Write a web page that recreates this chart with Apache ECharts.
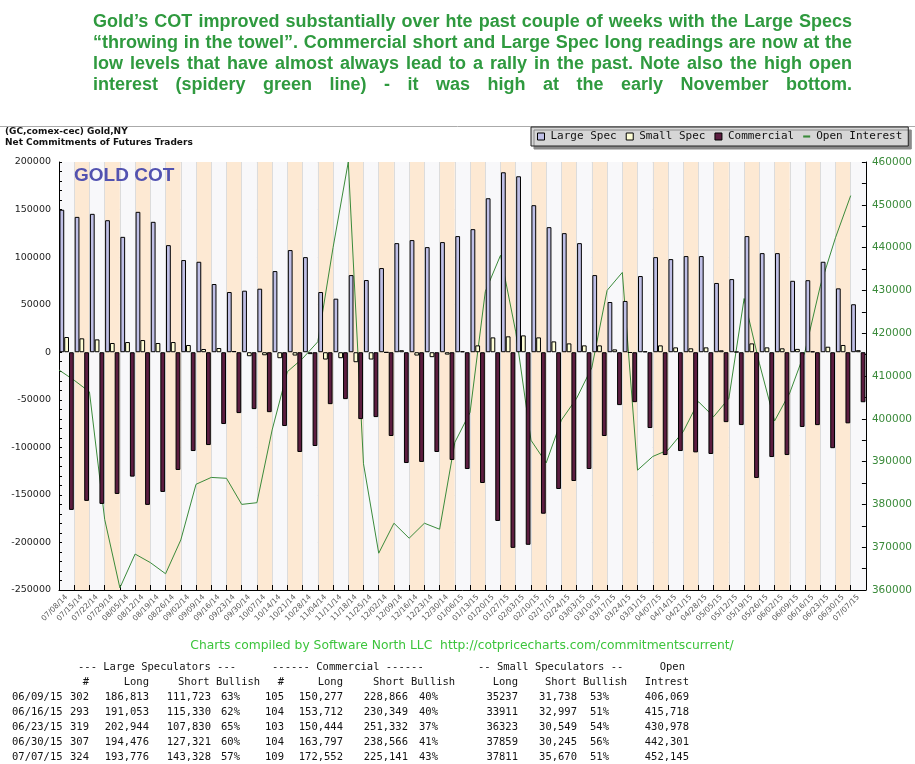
<!DOCTYPE html>
<html>
<head>
<meta charset="utf-8">
<script src="https://cdn.jsdelivr.net/npm/echarts@6/dist/echarts.min.js"></script>
<style>
html,body{margin:0;padding:0;background:#fff;}
#chart{width:915px;height:764px;}
</style>
</head>
<body>
<div id="chart"></div>
<script>
// ---------------- DATA ----------------
const dates = ['07/08/14','07/15/14','07/22/14','07/29/14','08/05/14','08/12/14','08/19/14','08/26/14','09/02/14','09/09/14','09/16/14','09/23/14','09/30/14','10/07/14','10/14/14','10/21/14','10/28/14','11/04/14','11/11/14','11/18/14','11/25/14','12/02/14','12/09/14','12/16/14','12/23/14','12/30/14','01/06/15','01/13/15','01/20/15','01/27/15','02/03/15','02/10/15','02/17/15','02/24/15','03/03/15','03/10/15','03/17/15','03/24/15','03/31/15','04/07/15','04/14/15','04/21/15','04/28/15','05/05/15','05/12/15','05/19/15','05/26/15','06/02/15','06/09/15','06/16/15','06/23/15','06/30/15','07/07/15'];

const largeSpec = [149800,142300,145500,138800,121300,147600,137100,112600,96900,95100,71700,63300,64700,66800,85300,107400,100000,63300,56300,81100,75900,88500,114700,117900,110500,115800,122100,129400,161900,189200,185000,154600,131500,125200,114700,81100,52800,53900,80100,100000,97900,101100,101100,72800,76900,122100,104200,104200,75090,75723,95114,67155,50448];

const smallSpec = [16000,14600,13500,9700,10700,12800,9700,10700,7600,3400,4400,1300,-4200,-3200,-6300,-3500,-2000,-7700,-6300,-10500,-7700,-300,2100,-3500,-5200,-2500,1000,7200,15600,16700,17700,15600,11400,9300,7200,7200,3000,-600,900,7200,5100,4100,5100,2000,500,9300,5100,4100,3499,914,5774,7614,2141];

const commercial = [-165800,-156300,-159500,-149000,-130800,-160500,-146900,-123800,-103900,-97600,-75500,-64000,-59800,-63000,-77600,-104900,-98600,-54600,-49300,-70300,-68200,-88100,-116500,-115400,-104900,-113300,-122800,-137500,-177400,-205700,-202500,-169800,-143800,-135400,-122800,-88100,-55600,-52500,-79700,-108100,-103900,-105300,-107000,-73500,-76600,-132200,-110200,-108100,-78589,-76637,-100888,-74769,-52589];

const openInterest = [411400,409000,406300,376500,360500,368400,366400,363800,371700,384700,386300,386100,380000,380400,397400,411000,414100,418000,440000,460000,389500,368600,375600,372100,375600,374200,394500,401500,429700,438200,420300,395000,389700,399700,404800,412000,430000,434200,388000,391200,392700,397000,404000,400500,404800,428100,413000,399500,406069,415718,430978,442301,452145];

const leftTicks = {min:-250000, max:200000, interval:50000};
const rightTicks = {min:360000, max:460000, interval:10000};

const titleLines = [
  "Gold\u2019s COT improved substantially over hte past couple of weeks with the Large Specs",
  "\u201Cthrowing in the towel\u201D. Commercial short and Large Spec long readings are now at the",
  "low levels that have almost always lead to a rally in the past. Note also the high open",
  "interest (spidery green line) - it was high at the early November bottom."
];
const subTitle1 = "(GC,comex-cec) Gold,NY";
const subTitle2 = "Net Commitments of Futures Traders";
const chartLabel = "GOLD COT";
const footerText = "Charts compiled by Software North LLC  http://cotpricecharts.com/commitmentscurrent/";

// table
const tblDates   = ['06/09/15','06/16/15','06/23/15','06/30/15','07/07/15'];
const tblLsCount = ['302','293','319','307','324'];
const tblLsLong  = ['186,813','191,053','202,944','194,476','193,776'];
const tblLsShort = ['111,723','115,330','107,830','127,321','143,328'];
const tblLsBull  = ['63%','62%','65%','60%','57%'];
const tblCmCount = ['105','104','103','104','109'];
const tblCmLong  = ['150,277','153,712','150,444','163,797','172,552'];
const tblCmShort = ['228,866','230,349','251,332','238,566','225,141'];
const tblCmBull  = ['40%','40%','37%','41%','43%'];
const tblSsLong  = ['35237','33911','36323','37859','37811'];
const tblSsShort = ['31,738','32,997','30,549','30,245','35,670'];
const tblSsBull  = ['53%','51%','54%','56%','51%'];
const tblOI      = ['406,069','415,718','430,978','442,301','452,145'];

// ---------------- BUILD ----------------
const chart = echarts.init(document.getElementById('chart'), null, {renderer:'canvas'});
const G = [];

// justified title
const titleFont = 'bold 18px "Liberation Sans", Arial, sans-serif';
const mctx = document.createElement('canvas').getContext('2d');
mctx.font = titleFont;
const tLeft = 93, tRight = 852, tY0 = 22, tDy = 21;
titleLines.forEach((line, li) => {
  const words = line.split(' ');
  const widths = words.map(w => mctx.measureText(w).width);
  const total = widths.reduce((a,b)=>a+b,0);
  const gap = (tRight - tLeft - total) / (words.length - 1);
  let x = tLeft;
  words.forEach((w, i) => {
    G.push({type:'text', silent:true, x:x, y:tY0 + li*tDy,
      style:{text:w, font:titleFont, fill:'#2f9a3f', align:'left', verticalAlign:'middle'}});
    x += widths[i] + gap;
  });
});

G.push({type:'line', silent:true, shape:{x1:0,y1:126.5,x2:915,y2:126.5}, style:{stroke:'#aaaaaa', lineWidth:1}});
G.push({type:'text', silent:true, x:5, y:132, style:{text:subTitle1, font:'bold 9px "DejaVu Sans", Verdana, sans-serif', fill:'#111', verticalAlign:'middle'}});
G.push({type:'text', silent:true, x:5, y:143, style:{text:subTitle2, font:'bold 9px "DejaVu Sans", Verdana, sans-serif', fill:'#111', verticalAlign:'middle'}});
G.push({type:'text', silent:true, x:74, y:176, z:100, style:{text:chartLabel, font:'bold 19px "Liberation Sans", Arial, sans-serif', fill:'#5252b0', verticalAlign:'middle'}});
G.push({type:'text', silent:true, x:462, y:646, style:{text:footerText, font:'12.3px "DejaVu Sans", Verdana, sans-serif', fill:'#3cc43c', align:'center', verticalAlign:'middle'}});

// table
const tFont = '10.5px "DejaVu Sans Mono", "Liberation Mono", monospace';
function tt(text, x, y, align){
  G.push({type:'text', silent:true, x:x, y:y, style:{text:text, font:tFont, fill:'#111', align:align||'left', verticalAlign:'middle'}});
}
const h1 = 667, h2 = 682, r0 = 697, rdy = 15;
tt('--- Large Speculators ---', 78, h1);
tt('------ Commercial ------', 272, h1);
tt('-- Small Speculators --', 478, h1);
tt('Open', 685, h1, 'right');
tt('#', 89, h2, 'right');
tt('Long', 149, h2, 'right');
tt('Short Bullish', 178, h2);
tt('#', 284, h2, 'right');
tt('Long', 343, h2, 'right');
tt('Short Bullish', 373, h2);
tt('Long', 518, h2, 'right');
tt('Short Bullish', 545, h2);
tt('Intrest', 689, h2, 'right');
const cols = [
  [tblDates, 12, 'left'], [tblLsCount, 89, 'right'], [tblLsLong, 149, 'right'], [tblLsShort, 211, 'right'], [tblLsBull, 240, 'right'],
  [tblCmCount, 284, 'right'], [tblCmLong, 343, 'right'], [tblCmShort, 408, 'right'], [tblCmBull, 438, 'right'],
  [tblSsLong, 518, 'right'], [tblSsShort, 577, 'right'], [tblSsBull, 609, 'right'], [tblOI, 689, 'right']
];
cols.forEach(([arr, x, al]) => arr.forEach((v, i) => tt(v, x, r0 + i*rdy, al)));

const lineCats = dates.concat(['']);
const plain = v => String(v);

const option = {
  animation:false,
  backgroundColor:'#ffffff',
  grid:{left:59, right:49, top:162, bottom:174, containLabel:false},
  legend:{
    left:531, top:127, width:380,
    padding:[4,6,4,6], itemGap:9, itemWidth:7, itemHeight:7,
    backgroundColor:'#d6d6d6', borderColor:'#222', borderWidth:1,
    shadowColor:'#8a8a8a', shadowOffsetX:3, shadowOffsetY:3, shadowBlur:0,
    textStyle:{fontFamily:'"DejaVu Sans Mono", monospace', fontSize:11, color:'#111', padding:[0,0,0,1]},
    data:[
      {name:'Large Spec', icon:'rect', itemStyle:{borderWidth:1}},
      {name:'Small Spec', icon:'rect', itemStyle:{borderWidth:1}},
      {name:'Commercial', icon:'rect', itemStyle:{borderWidth:1}},
      {name:'Open Interest', icon:'path://M0,0 L10,0 L10,3 L0,3 Z', itemStyle:{color:'#3a8a3a', borderWidth:0}}
    ]
  },
  graphic:{elements:G},
  xAxis:[
    {type:'category', data:dates, boundaryGap:true, position:'bottom',
      axisLine:{onZero:false, lineStyle:{color:'#000', width:1}},
      axisTick:{show:true, inside:true, length:5, lineStyle:{color:'#000'}},
      axisLabel:{interval:0, rotate:45, fontSize:7.5, fontFamily:'"DejaVu Sans", Verdana, sans-serif', color:'#555', margin:6},
      splitLine:{show:true, interval:0, lineStyle:{color:'#dcdcdc', width:1}},
      splitArea:{show:true, interval:0, areaStyle:{color:['#f8f8fa','#fde9d3']}}
    },
    {type:'category', data:lineCats, boundaryGap:false, show:false}
  ],
  yAxis:[
    {type:'value', position:'left', min:leftTicks.min, max:leftTicks.max, interval:leftTicks.interval,
      axisLine:{show:true, lineStyle:{color:'#000'}},
      axisTick:{show:true, inside:true, length:3, lineStyle:{color:'#000'}},
      minorTick:{show:true, splitNumber:5, length:3, lineStyle:{color:'#000'}},
      axisLabel:{fontSize:9.5, fontFamily:'"DejaVu Sans", Verdana, sans-serif', color:'#222', margin:8, formatter:plain},
      splitLine:{show:true, lineStyle:{color:'#d6d6d6'}}
    },
    {type:'value', position:'right', min:rightTicks.min, max:rightTicks.max, interval:rightTicks.interval,
      axisLine:{show:true, lineStyle:{color:'#000'}},
      axisTick:{show:true, inside:true, length:4, lineStyle:{color:'#000'}},
      minorTick:{show:true, splitNumber:2, length:4, lineStyle:{color:'#000'}},
      axisLabel:{fontSize:10.5, fontFamily:'"DejaVu Sans", Verdana, sans-serif', color:'#3a8a3a', margin:6, formatter:plain},
      splitLine:{show:false}
    }
  ],
  series:[
    {name:'Large Spec', type:'bar', data:largeSpec, xAxisIndex:0, yAxisIndex:0, z:3,
      barGap:'0%', barCategoryGap:'6%',
      itemStyle:{color:'#bfbfe6', borderColor:'#000', borderWidth:1}},
    {name:'Small Spec', type:'bar', data:smallSpec, xAxisIndex:0, yAxisIndex:0, z:3,
      itemStyle:{color:'#ffffd6', borderColor:'#000', borderWidth:1}},
    {name:'Commercial', type:'bar', data:commercial, xAxisIndex:0, yAxisIndex:0, z:3,
      itemStyle:{color:'#5c1d40', borderColor:'#000', borderWidth:1}},
    {name:'Open Interest', type:'line', data:openInterest, xAxisIndex:1, yAxisIndex:1, z:2,
      symbol:'none', showSymbol:false, lineStyle:{color:'#3a8a3a', width:1}, itemStyle:{color:'#3a8a3a'}}
  ]
};
chart.setOption(option);
</script>
</body>
</html>
